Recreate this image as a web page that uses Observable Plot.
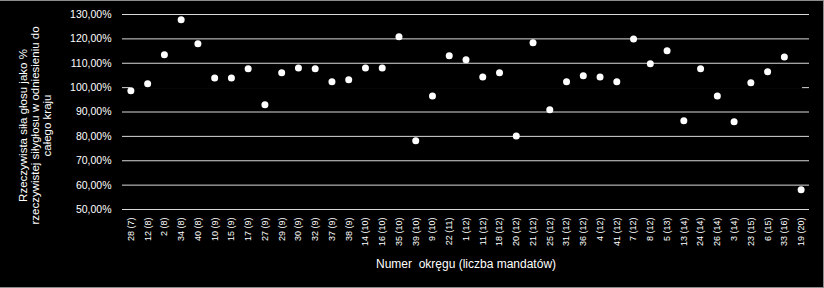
<!DOCTYPE html>
<html><head><meta charset="utf-8">
<script src="https://cdn.jsdelivr.net/npm/d3@7"></script>
<script src="https://cdn.jsdelivr.net/npm/@observablehq/plot@0.6"></script>
<style>
html,body{margin:0;padding:0;background:#000;}
#wrap{position:relative;width:824px;height:288px;overflow:hidden;background:#000;}
#wrap svg{display:block;}
#border{position:absolute;left:-1px;top:0;width:823px;height:286px;border:1px solid #8c8c8c;pointer-events:none;}
#ytitle{position:absolute;left:-88px;top:100px;width:260px;height:51px;line-height:17px;font:11.5px 'Liberation Sans', Arial, sans-serif;color:#fff;text-align:center;white-space:pre;transform:rotate(-90deg);transform-origin:50% 50%;}
</style></head><body><div id="wrap"><div id="border"></div><div id="ytitle"></div></div>
<script>
const districts = ["28 (7)","12 (8)","2 (8)","34 (8)","40 (8)","10 (9)","15 (9)","17 (9)","27 (9)","29 (9)","30 (9)","32 (9)","37 (9)","38 (9)","14 (10)","16 (10)","35 (10)","39 (10)","9 (10)","22 (11)","1 (12)","11 (12)","18 (12)","20 (12)","21 (12)","25 (12)","31 (12)","36 (12)","4 (12)","41 (12)","7 (12)","8 (12)","5 (13)","13 (14)","24 (14)","26 (14)","3 (14)","23 (15)","6 (15)","33 (16)","19 (20)"];
const strength = [98.7,101.6,113.5,127.8,118.0,104.0,104.0,107.7,93.0,106.1,108.1,107.7,102.4,103.2,108.1,108.1,120.85,78.2,96.6,113.05,111.4,104.4,106.1,80.2,118.4,90.9,102.4,104.85,104.4,102.4,120.0,109.8,115.1,86.4,107.7,96.6,86.0,102.0,106.5,112.6,58.1];
const yTicks = [0.5,0.6,0.7,0.8,0.9,1.0,1.1,1.2,1.3];
const xTitle = "Numer  okręgu (liczba mandatów)";
const yTitle = "Rzeczywista siła głosu jako %\nrzeczywistej siłygłosu w odniesieniu do\ncałego kraju";

const data = districts.map((d, i) => ({district: d, value: strength[i] / 100}));
const ends = [{district: districts[0], value: 1}, {district: districts[districts.length - 1], value: 1}];
const fmt = v => (v * 100).toFixed(2).replace(".", ",") + "%";
const font = "'Liberation Sans', Arial, sans-serif";

const plot = Plot.plot({
  width: 824, height: 288,
  marginLeft: 122, marginRight: 15, marginTop: 14, marginBottom: 79,
  style: {background: "#000", color: "#fff", fontFamily: font},
  x: {type: "band", domain: districts, padding: 0},
  y: {domain: [0.5, 1.3]},
  marks: [
    Plot.ruleY(yTicks, {stroke: "#d9d9d9", strokeWidth: 1}),
    Plot.line(ends, {x: "district", y: "value", stroke: "#000", strokeWidth: 2}),
    Plot.axisY(yTicks, {tickSize: 0, tickPadding: 11, tickFormat: fmt, fontSize: 10.5, label: null, fill: "#fff"}),
    Plot.axisX({tickRotate: -90, tickSize: 0, tickPadding: 8, fontSize: 9, label: null, fill: "#fff"}),
    Plot.text([xTitle], {frameAnchor: "bottom", dy: 58, fontSize: 12, fill: "#fff", text: d => d}),
    Plot.dot(data, {x: "district", y: "value", r: 3.5, fill: "#fff", stroke: "none"})
  ]
});
document.getElementById("wrap").prepend(plot);
document.getElementById("ytitle").textContent = yTitle;
</script>
</body></html>
